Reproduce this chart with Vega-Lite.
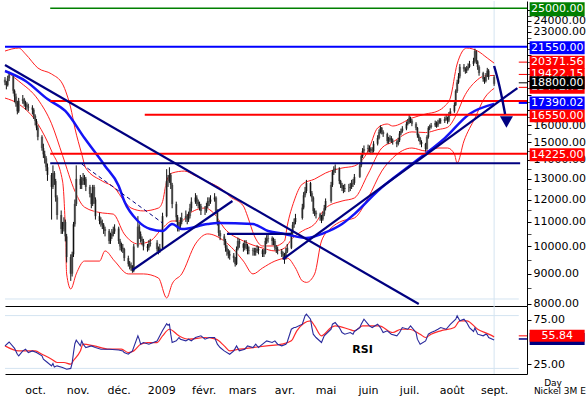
{
"$schema":"https://vega.github.io/schema/vega-lite/v6.json",
"background":"white",
"padding":0,
"spacing":0,
"bounds":"flush",
"config":{"view":{"stroke":null},"font":"DejaVu Sans","axis":{"labelFont":"DejaVu Sans","labelFontSize":11,"labelColor":"#000","domainColor":"#000","tickColor":"#000","grid":false}},
"datasets":{
"bars":[
{"d":"2008-09-09","o":19100,"h":19300,"l":18700,"c":18900},
{"d":"2008-09-10","o":18900,"h":19000,"l":18400,"c":18700},
{"d":"2008-09-11","o":18700,"h":19400,"l":18600,"c":19200},
{"d":"2008-09-12","o":19200,"h":19700,"l":19000,"c":19500},
{"d":"2008-09-15","o":19400,"h":19500,"l":18100,"c":18300},
{"d":"2008-09-16","o":18300,"h":18400,"l":17500,"c":17900},
{"d":"2008-09-17","o":17900,"h":18100,"l":17200,"c":17400},
{"d":"2008-09-18","o":17400,"h":17600,"l":16700,"c":16900},
{"d":"2008-09-19","o":16900,"h":17800,"l":16800,"c":17600},
{"d":"2008-09-22","o":17600,"h":18000,"l":17400,"c":17700},
{"d":"2008-09-23","o":17700,"h":17800,"l":17200,"c":17400},
{"d":"2008-09-24","o":17400,"h":17600,"l":17000,"c":17300},
{"d":"2008-09-25","o":17300,"h":17500,"l":17000,"c":17200},
{"d":"2008-09-26","o":17200,"h":17400,"l":16900,"c":17150},
{"d":"2008-09-29","o":17150,"h":17300,"l":16700,"c":17000},
{"d":"2008-09-30","o":17000,"h":17100,"l":16400,"c":16600},
{"d":"2008-10-01","o":16600,"h":16700,"l":16000,"c":16270},
{"d":"2008-10-02","o":16270,"h":16400,"l":15700,"c":15860},
{"d":"2008-10-03","o":15860,"h":16000,"l":15100,"c":15300},
{"d":"2008-10-06","o":15300,"h":15400,"l":14500,"c":14650},
{"d":"2008-10-07","o":14650,"h":14900,"l":14100,"c":14300},
{"d":"2008-10-08","o":14300,"h":14500,"l":13800,"c":14080},
{"d":"2008-10-09","o":14080,"h":14200,"l":13400,"c":13600},
{"d":"2008-10-10","o":13600,"h":13800,"l":12900,"c":13200},
{"d":"2008-10-13","o":13200,"h":13300,"l":11100,"c":12600},
{"d":"2008-10-14","o":12600,"h":13700,"l":12500,"c":13300},
{"d":"2008-10-15","o":13300,"h":13400,"l":12700,"c":12890},
{"d":"2008-10-16","o":12890,"h":13000,"l":11900,"c":12100},
{"d":"2008-10-17","o":12100,"h":12200,"l":11100,"c":11300},
{"d":"2008-10-20","o":11300,"h":11500,"l":10500,"c":10700},
{"d":"2008-10-21","o":10700,"h":11000,"l":10500,"c":10800},
{"d":"2008-10-22","o":10800,"h":11200,"l":10600,"c":11000},
{"d":"2008-10-23","o":11000,"h":11100,"l":10200,"c":10400},
{"d":"2008-10-24","o":10400,"h":10500,"l":9400,"c":9600},
{"d":"2008-10-27","o":9600,"h":9700,"l":8750,"c":9000},
{"d":"2008-10-28","o":9000,"h":9800,"l":8900,"c":9700},
{"d":"2008-10-29","o":9700,"h":11000,"l":9600,"c":10900},
{"d":"2008-10-30","o":10900,"h":12000,"l":10800,"c":11800},
{"d":"2008-10-31","o":11800,"h":13700,"l":11700,"c":13000},
{"d":"2008-11-03","o":13000,"h":13200,"l":12500,"c":12700},
{"d":"2008-11-04","o":12700,"h":13100,"l":12500,"c":12900},
{"d":"2008-11-05","o":12900,"h":13300,"l":12700,"c":13050},
{"d":"2008-11-06","o":13050,"h":13200,"l":12700,"c":13000},
{"d":"2008-11-07","o":13000,"h":13100,"l":12400,"c":12600},
{"d":"2008-11-10","o":12600,"h":12700,"l":12100,"c":12260},
{"d":"2008-11-11","o":12260,"h":12300,"l":11600,"c":11790},
{"d":"2008-11-12","o":11790,"h":12700,"l":11700,"c":12600},
{"d":"2008-11-13","o":12600,"h":12700,"l":11800,"c":12000},
{"d":"2008-11-14","o":12000,"h":12100,"l":11100,"c":11250},
{"d":"2008-11-17","o":11250,"h":11400,"l":10900,"c":11040},
{"d":"2008-11-18","o":11040,"h":11200,"l":10800,"c":10950},
{"d":"2008-11-19","o":10950,"h":11100,"l":10700,"c":10880},
{"d":"2008-11-20","o":10880,"h":10950,"l":10500,"c":10700},
{"d":"2008-11-21","o":10700,"h":10800,"l":10400,"c":10620},
{"d":"2008-11-24","o":10620,"h":10700,"l":10100,"c":10215},
{"d":"2008-11-25","o":10215,"h":10550,"l":10100,"c":10400},
{"d":"2008-11-26","o":10400,"h":10700,"l":10300,"c":10500},
{"d":"2008-11-27","o":10500,"h":10800,"l":10400,"c":10600},
{"d":"2008-11-28","o":10600,"h":10900,"l":10500,"c":10720},
{"d":"2008-12-01","o":10720,"h":10800,"l":10100,"c":10215},
{"d":"2008-12-02","o":10215,"h":10300,"l":9850,"c":10000},
{"d":"2008-12-03","o":10000,"h":10150,"l":9800,"c":9950},
{"d":"2008-12-04","o":9950,"h":10100,"l":9750,"c":9900},
{"d":"2008-12-05","o":9900,"h":9950,"l":9450,"c":9560},
{"d":"2008-12-08","o":9560,"h":9650,"l":9250,"c":9340},
{"d":"2008-12-09","o":9340,"h":9450,"l":9150,"c":9300},
{"d":"2008-12-10","o":9300,"h":9400,"l":9100,"c":9200},
{"d":"2008-12-11","o":9200,"h":9300,"l":9030,"c":9100},
{"d":"2008-12-12","o":9100,"h":10100,"l":9050,"c":10000},
{"d":"2008-12-15","o":10000,"h":11250,"l":9950,"c":10800},
{"d":"2008-12-16","o":10800,"h":10900,"l":10300,"c":10500},
{"d":"2008-12-17","o":10500,"h":10600,"l":10150,"c":10300},
{"d":"2008-12-18","o":10300,"h":10400,"l":10050,"c":10215},
{"d":"2008-12-19","o":10215,"h":10300,"l":9850,"c":10000},
{"d":"2008-12-22","o":10000,"h":10100,"l":9800,"c":9950},
{"d":"2008-12-23","o":9950,"h":10250,"l":9850,"c":10100},
{"d":"2008-12-24","o":10100,"h":10300,"l":10000,"c":10150},
{"d":"2008-12-29","o":10150,"h":10250,"l":9800,"c":9900},
{"d":"2008-12-30","o":9900,"h":10000,"l":9700,"c":9826},
{"d":"2008-12-31","o":9826,"h":10100,"l":9750,"c":9950},
{"d":"2009-01-02","o":9950,"h":11400,"l":9900,"c":11250},
{"d":"2009-01-05","o":11250,"h":13500,"l":11200,"c":12900},
{"d":"2009-01-06","o":12900,"h":13200,"l":12600,"c":12890},
{"d":"2009-01-07","o":12890,"h":13600,"l":12800,"c":13200},
{"d":"2009-01-08","o":13200,"h":13300,"l":12500,"c":12700},
{"d":"2009-01-09","o":12700,"h":12800,"l":11600,"c":11790},
{"d":"2009-01-12","o":11790,"h":11900,"l":11000,"c":11200},
{"d":"2009-01-13","o":11200,"h":11300,"l":10600,"c":10720},
{"d":"2009-01-14","o":10720,"h":11000,"l":10600,"c":10830},
{"d":"2009-01-15","o":10830,"h":11200,"l":10700,"c":11000},
{"d":"2009-01-16","o":11000,"h":11400,"l":10900,"c":11170},
{"d":"2009-01-19","o":11170,"h":11500,"l":11000,"c":11250},
{"d":"2009-01-20","o":11250,"h":11350,"l":10900,"c":11100},
{"d":"2009-01-21","o":11100,"h":11450,"l":11000,"c":11250},
{"d":"2009-01-22","o":11250,"h":11800,"l":11150,"c":11600},
{"d":"2009-01-23","o":11600,"h":12100,"l":11450,"c":11900},
{"d":"2009-01-26","o":11900,"h":12300,"l":11800,"c":12090},
{"d":"2009-01-27","o":12090,"h":12200,"l":11700,"c":11900},
{"d":"2009-01-28","o":11900,"h":12000,"l":11600,"c":11790},
{"d":"2009-01-29","o":11790,"h":11900,"l":11500,"c":11700},
{"d":"2009-01-30","o":11700,"h":11800,"l":11300,"c":11480},
{"d":"2009-02-02","o":11480,"h":11700,"l":11300,"c":11480},
{"d":"2009-02-03","o":11480,"h":11850,"l":11400,"c":11700},
{"d":"2009-02-04","o":11700,"h":12100,"l":11600,"c":11930},
{"d":"2009-02-05","o":11930,"h":12100,"l":11700,"c":11900},
{"d":"2009-02-06","o":11900,"h":12200,"l":11800,"c":12000},
{"d":"2009-02-09","o":12000,"h":12300,"l":11900,"c":12090},
{"d":"2009-02-10","o":12090,"h":12150,"l":11350,"c":11480},
{"d":"2009-02-11","o":11480,"h":11550,"l":10850,"c":11000},
{"d":"2009-02-12","o":11000,"h":11050,"l":10400,"c":10540},
{"d":"2009-02-13","o":10540,"h":10650,"l":10250,"c":10400},
{"d":"2009-02-16","o":10400,"h":10500,"l":10050,"c":10215},
{"d":"2009-02-17","o":10215,"h":10300,"l":9800,"c":9950},
{"d":"2009-02-18","o":9950,"h":10050,"l":9650,"c":9800},
{"d":"2009-02-19","o":9800,"h":9900,"l":9550,"c":9710},
{"d":"2009-02-20","o":9710,"h":9850,"l":9500,"c":9650},
{"d":"2009-02-23","o":9650,"h":9750,"l":9400,"c":9560},
{"d":"2009-02-24","o":9560,"h":9600,"l":9250,"c":9340},
{"d":"2009-02-25","o":9340,"h":10000,"l":9300,"c":9900},
{"d":"2009-02-26","o":9900,"h":10350,"l":9850,"c":10215},
{"d":"2009-02-27","o":10215,"h":10300,"l":9950,"c":10100},
{"d":"2009-03-02","o":10100,"h":10150,"l":9800,"c":9950},
{"d":"2009-03-03","o":9950,"h":10250,"l":9850,"c":10100},
{"d":"2009-03-04","o":10100,"h":10250,"l":9900,"c":10050},
{"d":"2009-03-05","o":10050,"h":10100,"l":9700,"c":9826},
{"d":"2009-03-06","o":9826,"h":10000,"l":9700,"c":9850},
{"d":"2009-03-09","o":9850,"h":9950,"l":9650,"c":9826},
{"d":"2009-03-10","o":9826,"h":9950,"l":9650,"c":9800},
{"d":"2009-03-11","o":9800,"h":9950,"l":9650,"c":9826},
{"d":"2009-03-12","o":9826,"h":10050,"l":9750,"c":9900},
{"d":"2009-03-13","o":9900,"h":10000,"l":9700,"c":9850},
{"d":"2009-03-16","o":9850,"h":9900,"l":9600,"c":9710},
{"d":"2009-03-17","o":9710,"h":9900,"l":9600,"c":9750},
{"d":"2009-03-18","o":9750,"h":10350,"l":9700,"c":10215},
{"d":"2009-03-19","o":10215,"h":10450,"l":10100,"c":10300},
{"d":"2009-03-20","o":10300,"h":10500,"l":10150,"c":10330},
{"d":"2009-03-23","o":10330,"h":10400,"l":10050,"c":10215},
{"d":"2009-03-24","o":10215,"h":10350,"l":10050,"c":10215},
{"d":"2009-03-25","o":10215,"h":10300,"l":9850,"c":9950},
{"d":"2009-03-26","o":9950,"h":10050,"l":9750,"c":9900},
{"d":"2009-03-27","o":9900,"h":10000,"l":9700,"c":9826},
{"d":"2009-03-30","o":9826,"h":9900,"l":9600,"c":9710},
{"d":"2009-03-31","o":9710,"h":9800,"l":9500,"c":9650},
{"d":"2009-04-01","o":9650,"h":9750,"l":9350,"c":9560},
{"d":"2009-04-02","o":9560,"h":9950,"l":9500,"c":9800},
{"d":"2009-04-03","o":9800,"h":10100,"l":9750,"c":9950},
{"d":"2009-04-06","o":9950,"h":10650,"l":9900,"c":10540},
{"d":"2009-04-07","o":10540,"h":11000,"l":10450,"c":10880},
{"d":"2009-04-08","o":10880,"h":11150,"l":10750,"c":11000},
{"d":"2009-04-09","o":11000,"h":11350,"l":10900,"c":11170},
{"d":"2009-04-14","o":11170,"h":11800,"l":11100,"c":11630},
{"d":"2009-04-15","o":11630,"h":12350,"l":11550,"c":12200},
{"d":"2009-04-16","o":12200,"h":12600,"l":12100,"c":12400},
{"d":"2009-04-17","o":12400,"h":12950,"l":12300,"c":12790},
{"d":"2009-04-20","o":12790,"h":12850,"l":12150,"c":12300},
{"d":"2009-04-21","o":12300,"h":12400,"l":11900,"c":12090},
{"d":"2009-04-22","o":12090,"h":12150,"l":11350,"c":11480},
{"d":"2009-04-23","o":11480,"h":11600,"l":11250,"c":11400},
{"d":"2009-04-24","o":11400,"h":11500,"l":11150,"c":11330},
{"d":"2009-04-27","o":11330,"h":11400,"l":11050,"c":11200},
{"d":"2009-04-28","o":11200,"h":11300,"l":10950,"c":11110},
{"d":"2009-04-29","o":11110,"h":11450,"l":11050,"c":11330},
{"d":"2009-04-30","o":11330,"h":11750,"l":11250,"c":11600},
{"d":"2009-05-01","o":11600,"h":12050,"l":11500,"c":11930},
{"d":"2009-05-05","o":11930,"h":12850,"l":11850,"c":12700},
{"d":"2009-05-06","o":12700,"h":13450,"l":12600,"c":13340},
{"d":"2009-05-07","o":13340,"h":13650,"l":13200,"c":13500},
{"d":"2009-05-08","o":13500,"h":13750,"l":13300,"c":13540},
{"d":"2009-05-11","o":13540,"h":13600,"l":12750,"c":12890},
{"d":"2009-05-12","o":12890,"h":12950,"l":12550,"c":12700},
{"d":"2009-05-13","o":12700,"h":12800,"l":12400,"c":12550},
{"d":"2009-05-14","o":12550,"h":12700,"l":12300,"c":12500},
{"d":"2009-05-15","o":12500,"h":12750,"l":12350,"c":12550},
{"d":"2009-05-18","o":12550,"h":12750,"l":12350,"c":12550},
{"d":"2009-05-19","o":12550,"h":12800,"l":12400,"c":12600},
{"d":"2009-05-20","o":12600,"h":12950,"l":12500,"c":12750},
{"d":"2009-05-21","o":12750,"h":13000,"l":12600,"c":12800},
{"d":"2009-05-22","o":12800,"h":13250,"l":12700,"c":13100},
{"d":"2009-05-26","o":13100,"h":13850,"l":13050,"c":13700},
{"d":"2009-05-27","o":13700,"h":14350,"l":13600,"c":14200},
{"d":"2009-05-28","o":14200,"h":14650,"l":14100,"c":14490},
{"d":"2009-05-29","o":14490,"h":14800,"l":14350,"c":14600},
{"d":"2009-06-01","o":14600,"h":14850,"l":14400,"c":14660},
{"d":"2009-06-02","o":14660,"h":14800,"l":14400,"c":14600},
{"d":"2009-06-03","o":14600,"h":14700,"l":14300,"c":14500},
{"d":"2009-06-04","o":14500,"h":14700,"l":14300,"c":14490},
{"d":"2009-06-05","o":14490,"h":15050,"l":14400,"c":14900},
{"d":"2009-06-08","o":14900,"h":15400,"l":14800,"c":15230},
{"d":"2009-06-09","o":15230,"h":15750,"l":15150,"c":15600},
{"d":"2009-06-10","o":15600,"h":16000,"l":15500,"c":15850},
{"d":"2009-06-11","o":15850,"h":15900,"l":15450,"c":15600},
{"d":"2009-06-12","o":15600,"h":15700,"l":15300,"c":15470},
{"d":"2009-06-15","o":15470,"h":15550,"l":14900,"c":15060},
{"d":"2009-06-16","o":15060,"h":15300,"l":14900,"c":15100},
{"d":"2009-06-17","o":15100,"h":15400,"l":15000,"c":15230},
{"d":"2009-06-18","o":15230,"h":15350,"l":14950,"c":15100},
{"d":"2009-06-19","o":15100,"h":15200,"l":14850,"c":15000},
{"d":"2009-06-22","o":15000,"h":15100,"l":14700,"c":14890},
{"d":"2009-06-23","o":14890,"h":15250,"l":14800,"c":15100},
{"d":"2009-06-24","o":15100,"h":15650,"l":15000,"c":15500},
{"d":"2009-06-25","o":15500,"h":15800,"l":15400,"c":15650},
{"d":"2009-06-26","o":15650,"h":15950,"l":15550,"c":15800},
{"d":"2009-06-29","o":15800,"h":16250,"l":15700,"c":16090},
{"d":"2009-06-30","o":16090,"h":16400,"l":16000,"c":16200},
{"d":"2009-07-01","o":16200,"h":16700,"l":16100,"c":16480},
{"d":"2009-07-02","o":16480,"h":16550,"l":16150,"c":16300},
{"d":"2009-07-03","o":16300,"h":16400,"l":15950,"c":16100},
{"d":"2009-07-06","o":16100,"h":16200,"l":15700,"c":15850},
{"d":"2009-07-07","o":15850,"h":15900,"l":15250,"c":15400},
{"d":"2009-07-08","o":15400,"h":15500,"l":15050,"c":15230},
{"d":"2009-07-09","o":15230,"h":15300,"l":14850,"c":15000},
{"d":"2009-07-10","o":15000,"h":15100,"l":14700,"c":14890},
{"d":"2009-07-13","o":14890,"h":14950,"l":14450,"c":14600},
{"d":"2009-07-14","o":14600,"h":15400,"l":14550,"c":15300},
{"d":"2009-07-15","o":15300,"h":15950,"l":15200,"c":15850},
{"d":"2009-07-16","o":15850,"h":16050,"l":15700,"c":15900},
{"d":"2009-07-17","o":15900,"h":16150,"l":15800,"c":16000},
{"d":"2009-07-20","o":16000,"h":16300,"l":15900,"c":16150},
{"d":"2009-07-21","o":16150,"h":16250,"l":15850,"c":16000},
{"d":"2009-07-22","o":16000,"h":16350,"l":15900,"c":16200},
{"d":"2009-07-23","o":16200,"h":16450,"l":16100,"c":16300},
{"d":"2009-07-24","o":16300,"h":16450,"l":16100,"c":16270},
{"d":"2009-07-27","o":16270,"h":16550,"l":16150,"c":16400},
{"d":"2009-07-28","o":16400,"h":16650,"l":16300,"c":16480},
{"d":"2009-07-29","o":16480,"h":16550,"l":16100,"c":16300},
{"d":"2009-07-30","o":16300,"h":16850,"l":16200,"c":16700},
{"d":"2009-07-31","o":16700,"h":17100,"l":16600,"c":16900},
{"d":"2009-08-03","o":16900,"h":17500,"l":16800,"c":17320},
{"d":"2009-08-04","o":17320,"h":18400,"l":17250,"c":18280},
{"d":"2009-08-05","o":18280,"h":19100,"l":18150,"c":18900},
{"d":"2009-08-06","o":18900,"h":19600,"l":18800,"c":19350},
{"d":"2009-08-07","o":19350,"h":20300,"l":19200,"c":20080},
{"d":"2009-08-10","o":20080,"h":20300,"l":19700,"c":19900},
{"d":"2009-08-11","o":19900,"h":20050,"l":19550,"c":19780},
{"d":"2009-08-12","o":19780,"h":20150,"l":19600,"c":19900},
{"d":"2009-08-13","o":19900,"h":20350,"l":19800,"c":20080},
{"d":"2009-08-14","o":20080,"h":20550,"l":20000,"c":20300},
{"d":"2009-08-17","o":20300,"h":20800,"l":20150,"c":20540},
{"d":"2009-08-18","o":20540,"h":21550,"l":20400,"c":21350},
{"d":"2009-08-19","o":21350,"h":21400,"l":20300,"c":20500},
{"d":"2009-08-20","o":20500,"h":20600,"l":19850,"c":20080},
{"d":"2009-08-21","o":20080,"h":20200,"l":19400,"c":19600},
{"d":"2009-08-24","o":19600,"h":19700,"l":18950,"c":19150},
{"d":"2009-08-25","o":19150,"h":19300,"l":18800,"c":19000},
{"d":"2009-08-26","o":19000,"h":19600,"l":18900,"c":19400},
{"d":"2009-08-27","o":19400,"h":20000,"l":19300,"c":19780},
{"d":"2009-08-28","o":19780,"h":19900,"l":19100,"c":19300},
{"d":"2009-09-01","o":19300,"h":19450,"l":18650,"c":18800}
],
"bands":[
{"s":"upper","d":"2008-09-09","v":21350},{"s":"upper","d":"2008-09-19","v":21600},{"s":"upper","d":"2008-09-24","v":21100},{"s":"upper","d":"2008-10-03","v":19990},{"s":"upper","d":"2008-10-13","v":19530},{"s":"upper","d":"2008-10-21","v":18790},{"s":"upper","d":"2008-10-24","v":18070},{"s":"upper","d":"2008-10-27","v":17115},{"s":"upper","d":"2008-10-30","v":15840},{"s":"upper","d":"2008-11-04","v":14320},{"s":"upper","d":"2008-11-07","v":13560},{"s":"upper","d":"2008-11-19","v":12890},{"s":"upper","d":"2008-11-28","v":12550},{"s":"upper","d":"2008-12-05","v":11930},{"s":"upper","d":"2008-12-10","v":11610},{"s":"upper","d":"2008-12-19","v":11480},{"s":"upper","d":"2008-12-30","v":11610},{"s":"upper","d":"2009-01-02","v":11900},{"s":"upper","d":"2009-01-05","v":12890},{"s":"upper","d":"2009-01-09","v":13300},{"s":"upper","d":"2009-01-18","v":13400},{"s":"upper","d":"2009-01-26","v":13150},{"s":"upper","d":"2009-02-03","v":12890},{"s":"upper","d":"2009-02-16","v":12400},{"s":"upper","d":"2009-02-20","v":12150},{"s":"upper","d":"2009-03-02","v":11700},{"s":"upper","d":"2009-03-05","v":11250},{"s":"upper","d":"2009-03-10","v":10420},{"s":"upper","d":"2009-03-16","v":10020},{"s":"upper","d":"2009-03-25","v":10020},{"s":"upper","d":"2009-04-01","v":10215},{"s":"upper","d":"2009-04-03","v":10830},{"s":"upper","d":"2009-04-08","v":11930},{"s":"upper","d":"2009-04-14","v":12740},{"s":"upper","d":"2009-04-23","v":12990},{"s":"upper","d":"2009-05-01","v":13300},{"s":"upper","d":"2009-05-13","v":13560},{"s":"upper","d":"2009-05-22","v":13670},{"s":"upper","d":"2009-06-01","v":14485},{"s":"upper","d":"2009-06-08","v":15840},{"s":"upper","d":"2009-06-15","v":16085},{"s":"upper","d":"2009-06-19","v":15960},{"s":"upper","d":"2009-07-03","v":16460},{"s":"upper","d":"2009-07-13","v":16720},{"s":"upper","d":"2009-07-22","v":16920},{"s":"upper","d":"2009-07-27","v":17250},{"s":"upper","d":"2009-07-31","v":17790},{"s":"upper","d":"2009-08-05","v":20300},{"s":"upper","d":"2009-08-12","v":21600},{"s":"upper","d":"2009-08-20","v":21350},{"s":"upper","d":"2009-08-27","v":20780},{"s":"upper","d":"2009-09-01","v":20371.56},
{"s":"middle","d":"2008-09-09","v":19800},{"s":"middle","d":"2008-09-19","v":19000},{"s":"middle","d":"2008-10-03","v":17700},{"s":"middle","d":"2008-10-13","v":16100},{"s":"middle","d":"2008-10-21","v":14240},{"s":"middle","d":"2008-10-30","v":12400},{"s":"middle","d":"2008-11-06","v":11650},{"s":"middle","d":"2008-11-19","v":11390},{"s":"middle","d":"2008-11-27","v":11340},{"s":"middle","d":"2008-12-05","v":10500},{"s":"middle","d":"2008-12-15","v":10100},{"s":"middle","d":"2008-12-24","v":10215},{"s":"middle","d":"2009-01-02","v":10740},{"s":"middle","d":"2009-01-09","v":11040},{"s":"middle","d":"2009-01-16","v":11040},{"s":"middle","d":"2009-01-21","v":11340},{"s":"middle","d":"2009-02-02","v":11610},{"s":"middle","d":"2009-02-09","v":11340},{"s":"middle","d":"2009-02-16","v":10740},{"s":"middle","d":"2009-03-02","v":10215},{"s":"middle","d":"2009-03-16","v":9940},{"s":"middle","d":"2009-03-25","v":9830},{"s":"middle","d":"2009-04-01","v":9940},{"s":"middle","d":"2009-04-07","v":10335},{"s":"middle","d":"2009-04-14","v":10620},{"s":"middle","d":"2009-04-23","v":10910},{"s":"middle","d":"2009-05-01","v":11610},{"s":"middle","d":"2009-05-13","v":11930},{"s":"middle","d":"2009-05-22","v":12070},{"s":"middle","d":"2009-06-01","v":13250},{"s":"middle","d":"2009-06-11","v":14655},{"s":"middle","d":"2009-06-19","v":15000},{"s":"middle","d":"2009-07-03","v":15600},{"s":"middle","d":"2009-07-13","v":15560},{"s":"middle","d":"2009-07-22","v":15740},{"s":"middle","d":"2009-07-29","v":15880},{"s":"middle","d":"2009-08-05","v":16790},{"s":"middle","d":"2009-08-10","v":17860},{"s":"middle","d":"2009-08-18","v":18930},{"s":"middle","d":"2009-08-25","v":19380},{"s":"middle","d":"2009-09-01","v":19422.15},
{"s":"lower","d":"2008-09-09","v":17790},{"s":"lower","d":"2008-09-19","v":17380},{"s":"lower","d":"2008-10-03","v":16085},{"s":"lower","d":"2008-10-13","v":14485},{"s":"lower","d":"2008-10-21","v":12890},{"s":"lower","d":"2008-10-23","v":10740},{"s":"lower","d":"2008-10-24","v":8990},{"s":"lower","d":"2008-10-27","v":8480},{"s":"lower","d":"2008-10-31","v":8990},{"s":"lower","d":"2008-11-06","v":9450},{"s":"lower","d":"2008-11-17","v":9450},{"s":"lower","d":"2008-11-21","v":9830},{"s":"lower","d":"2008-11-28","v":9450},{"s":"lower","d":"2008-12-08","v":8990},{"s":"lower","d":"2008-12-19","v":8990},{"s":"lower","d":"2008-12-30","v":8850},{"s":"lower","d":"2009-01-05","v":8190},{"s":"lower","d":"2009-01-09","v":8650},{"s":"lower","d":"2009-01-16","v":8990},{"s":"lower","d":"2009-01-26","v":10100},{"s":"lower","d":"2009-02-04","v":10500},{"s":"lower","d":"2009-02-16","v":10215},{"s":"lower","d":"2009-03-02","v":9450},{"s":"lower","d":"2009-03-09","v":8990},{"s":"lower","d":"2009-03-16","v":9200},{"s":"lower","d":"2009-03-25","v":9450},{"s":"lower","d":"2009-04-03","v":9560},{"s":"lower","d":"2009-04-09","v":9200},{"s":"lower","d":"2009-04-14","v":8750},{"s":"lower","d":"2009-04-17","v":8700},{"s":"lower","d":"2009-04-23","v":8990},{"s":"lower","d":"2009-04-28","v":10215},{"s":"lower","d":"2009-05-05","v":10740},{"s":"lower","d":"2009-05-13","v":11040},{"s":"lower","d":"2009-05-22","v":11170},{"s":"lower","d":"2009-06-01","v":12070},{"s":"lower","d":"2009-06-11","v":13400},{"s":"lower","d":"2009-06-19","v":14100},{"s":"lower","d":"2009-07-03","v":14655},{"s":"lower","d":"2009-07-13","v":14485},{"s":"lower","d":"2009-07-22","v":14655},{"s":"lower","d":"2009-07-29","v":14655},{"s":"lower","d":"2009-08-03","v":14320},{"s":"lower","d":"2009-08-05","v":13830},{"s":"lower","d":"2009-08-10","v":15060},{"s":"lower","d":"2009-08-18","v":16460},{"s":"lower","d":"2009-08-25","v":17790},{"s":"lower","d":"2009-09-01","v":18472.71}
],
"ma":[
{"d":"2008-09-09","v":19760},{"d":"2008-09-24","v":19010},{"d":"2008-10-10","v":17720},{"d":"2008-10-23","v":16920},{"d":"2008-11-06","v":15230},{"d":"2008-11-21","v":13670},{"d":"2008-12-01","v":12650},{"d":"2008-12-05","v":11930},{"d":"2008-12-15","v":11040},{"d":"2008-12-24","v":10700},{"d":"2009-01-02","v":10620},{"d":"2009-01-09","v":10910},{"d":"2009-01-16","v":10700},{"d":"2009-02-04","v":10910},{"d":"2009-02-11","v":10950},{"d":"2009-03-09","v":10910},{"d":"2009-03-20","v":10620},{"d":"2009-04-01","v":10500},{"d":"2009-04-17","v":10335},{"d":"2009-04-30","v":10540},{"d":"2009-05-13","v":10910},{"d":"2009-05-22","v":11340},{"d":"2009-06-08","v":12400},{"d":"2009-07-03","v":13770},{"d":"2009-07-27","v":15230},{"d":"2009-08-14","v":16720},{"d":"2009-09-01","v":17390.02}
],
"levels":[
{"k":"target","p":25000,"d":"2008-10-12","d2":"2009-09-25"},
{"k":"high","p":21550,"d":"2008-09-09","d2":"2009-09-25"},
{"k":"res","p":17450,"d":"2008-10-12","d2":"2009-09-25"},
{"k":"res","p":16550,"d":"2008-12-20","d2":"2009-09-25"},
{"k":"sup","p":14225,"d":"2008-10-12","d2":"2009-09-25"},
{"k":"base","p":13700,"d":"2008-10-12","d2":"2009-09-20"}
],
"trend":[
{"g":"A","d":"2008-09-09","p":20223},{"g":"A","d":"2009-07-08","p":8000},
{"g":"C","d":"2009-03-31","p":9526},{"g":"C","d":"2009-09-18","p":18496},
{"g":"D","d":"2008-12-11","p":9129},{"g":"D","d":"2009-02-22","p":11931},
{"g":"E","d":"2009-02-18","p":10500},{"g":"E","d":"2009-04-06","p":10500}
],
"dash":[{"d":"2008-11-04","p":13773},{"d":"2009-01-02","p":10954}],
"arrow":[{"d":"2009-09-01","p":20145},{"d":"2009-09-04","p":19006},{"d":"2009-09-06","p":18141},{"d":"2009-09-09","p":16722}],
"head":[{"d":"2009-09-10","p":16211}],
"tags":[
{"k":"mid","p":19422.15,"t":"19422.15"},
{"k":"low","p":18472.71,"t":"18472.71"},
{"k":"up","p":20371.56,"t":"20371.56"},
{"k":"res","p":16550,"t":"16550.00"},
{"k":"sup","p":14225,"t":"14225.00"},
{"k":"high","p":21550,"t":"21550.00"},
{"k":"ma","p":17390.02,"t":"17390.02"},
{"k":"last","p":18800,"t":"18800.00"},
{"k":"target","p":25000,"t":"25000.00"}
],
"rsi":[
{"d":"2008-09-09","v":45.6},{"d":"2008-09-12","v":50},{"d":"2008-09-16","v":42.7},{"d":"2008-09-18","v":36},{"d":"2008-09-19","v":34.2},{"d":"2008-09-22","v":39.9},{"d":"2008-09-24","v":41.8},{"d":"2008-09-26","v":38},{"d":"2008-09-29","v":39.9},{"d":"2008-10-02","v":38},{"d":"2008-10-06","v":34.2},{"d":"2008-10-07","v":30.5},{"d":"2008-10-10","v":26.7},{"d":"2008-10-13","v":22.9},{"d":"2008-10-14","v":25.5},{"d":"2008-10-15","v":21.5},{"d":"2008-10-17","v":22.9},{"d":"2008-10-21","v":21},{"d":"2008-10-24","v":19.1},{"d":"2008-10-27","v":20},{"d":"2008-10-28","v":26},{"d":"2008-10-29","v":38},{"d":"2008-10-30","v":48},{"d":"2008-10-31","v":52},{"d":"2008-11-03","v":45.6},{"d":"2008-11-04","v":51.3},{"d":"2008-11-05","v":47.5},{"d":"2008-11-07","v":43.7},{"d":"2008-11-11","v":45.6},{"d":"2008-11-14","v":43.7},{"d":"2008-11-18","v":41.8},{"d":"2008-11-21","v":41.8},{"d":"2008-11-24","v":41.8},{"d":"2008-12-01","v":40.9},{"d":"2008-12-04","v":39.9},{"d":"2008-12-05","v":38},{"d":"2008-12-08","v":36.1},{"d":"2008-12-11","v":39.9},{"d":"2008-12-15","v":57},{"d":"2008-12-16","v":53},{"d":"2008-12-17","v":47.5},{"d":"2008-12-19","v":49.4},{"d":"2008-12-23","v":47.5},{"d":"2008-12-29","v":51},{"d":"2008-12-31","v":57},{"d":"2009-01-02","v":63},{"d":"2009-01-05","v":70.9},{"d":"2009-01-06","v":69},{"d":"2009-01-07","v":70.2},{"d":"2009-01-08","v":58.9},{"d":"2009-01-09","v":49.4},{"d":"2009-01-12","v":51.3},{"d":"2009-01-14","v":55.1},{"d":"2009-01-15","v":53.2},{"d":"2009-01-19","v":51.3},{"d":"2009-01-21","v":53.2},{"d":"2009-01-23","v":51.3},{"d":"2009-01-26","v":55.1},{"d":"2009-01-30","v":57},{"d":"2009-02-02","v":53.2},{"d":"2009-02-05","v":55.1},{"d":"2009-02-09","v":55.1},{"d":"2009-02-11","v":47.5},{"d":"2009-02-13","v":43.7},{"d":"2009-02-16","v":39.9},{"d":"2009-02-20","v":36.1},{"d":"2009-02-23","v":39.9},{"d":"2009-02-25","v":45.6},{"d":"2009-02-27","v":39.9},{"d":"2009-03-03","v":41.8},{"d":"2009-03-05","v":45.6},{"d":"2009-03-09","v":43.7},{"d":"2009-03-11","v":47.5},{"d":"2009-03-13","v":43.7},{"d":"2009-03-16","v":47.5},{"d":"2009-03-19","v":51.3},{"d":"2009-03-23","v":49.4},{"d":"2009-03-25","v":51.3},{"d":"2009-03-27","v":47.5},{"d":"2009-03-30","v":45.6},{"d":"2009-04-02","v":47.5},{"d":"2009-04-03","v":50},{"d":"2009-04-06","v":64.5},{"d":"2009-04-08","v":66.4},{"d":"2009-04-09","v":66.4},{"d":"2009-04-14","v":70.2},{"d":"2009-04-15","v":75},{"d":"2009-04-16","v":79.7},{"d":"2009-04-17","v":81.6},{"d":"2009-04-20","v":75.9},{"d":"2009-04-21","v":66.4},{"d":"2009-04-22","v":58.9},{"d":"2009-04-24","v":55.1},{"d":"2009-04-28","v":49.4},{"d":"2009-04-30","v":57},{"d":"2009-05-05","v":64.5},{"d":"2009-05-06","v":70.2},{"d":"2009-05-08","v":72.1},{"d":"2009-05-11","v":66.4},{"d":"2009-05-13","v":60.8},{"d":"2009-05-15","v":58.9},{"d":"2009-05-19","v":60.8},{"d":"2009-05-21","v":58.9},{"d":"2009-05-22","v":62},{"d":"2009-05-26","v":66.4},{"d":"2009-05-27","v":70.2},{"d":"2009-05-29","v":75.9},{"d":"2009-06-02","v":68.3},{"d":"2009-06-04","v":66.4},{"d":"2009-06-08","v":70.2},{"d":"2009-06-10","v":66.4},{"d":"2009-06-12","v":60.8},{"d":"2009-06-15","v":62.7},{"d":"2009-06-18","v":58.9},{"d":"2009-06-22","v":57},{"d":"2009-06-24","v":60.8},{"d":"2009-06-26","v":66.4},{"d":"2009-06-30","v":64.5},{"d":"2009-07-02","v":68.3},{"d":"2009-07-06","v":60.8},{"d":"2009-07-07","v":53.2},{"d":"2009-07-09","v":47.5},{"d":"2009-07-13","v":51.3},{"d":"2009-07-15","v":58.9},{"d":"2009-07-17","v":60.8},{"d":"2009-07-20","v":62.7},{"d":"2009-07-22","v":64.5},{"d":"2009-07-24","v":66.4},{"d":"2009-07-28","v":64.5},{"d":"2009-07-31","v":70},{"d":"2009-08-04","v":76},{"d":"2009-08-05","v":79.7},{"d":"2009-08-07","v":74},{"d":"2009-08-10","v":75.9},{"d":"2009-08-12","v":72.1},{"d":"2009-08-14","v":66.4},{"d":"2009-08-17","v":62},{"d":"2009-08-18","v":66},{"d":"2009-08-20","v":58.9},{"d":"2009-08-24","v":57},{"d":"2009-08-26","v":58.9},{"d":"2009-08-27","v":58},{"d":"2009-08-28","v":55.1},{"d":"2009-09-01","v":52.3}
],
"rsima":[
{"d":"2008-09-09","v":45.6},{"d":"2008-09-19","v":39.9},{"d":"2008-10-01","v":39.9},{"d":"2008-10-06","v":36.1},{"d":"2008-10-13","v":30.5},{"d":"2008-10-17","v":26.7},{"d":"2008-10-22","v":26.7},{"d":"2008-10-27","v":24.8},{"d":"2008-10-29","v":29},{"d":"2008-11-03","v":39.9},{"d":"2008-11-05","v":47.5},{"d":"2008-11-13","v":45.6},{"d":"2008-11-24","v":41.8},{"d":"2008-12-03","v":41.8},{"d":"2008-12-08","v":38},{"d":"2008-12-12","v":39.9},{"d":"2008-12-17","v":47.5},{"d":"2008-12-22","v":49.4},{"d":"2008-12-29","v":49.4},{"d":"2009-01-02","v":57},{"d":"2009-01-07","v":64.5},{"d":"2009-01-14","v":57},{"d":"2009-01-21","v":53.2},{"d":"2009-02-02","v":55.1},{"d":"2009-02-10","v":53.2},{"d":"2009-02-16","v":45.6},{"d":"2009-02-20","v":39.9},{"d":"2009-02-27","v":41.8},{"d":"2009-03-09","v":43.7},{"d":"2009-03-19","v":45.6},{"d":"2009-03-30","v":47.5},{"d":"2009-04-06","v":51.3},{"d":"2009-04-10","v":62.7},{"d":"2009-04-20","v":74},{"d":"2009-04-23","v":68.3},{"d":"2009-04-28","v":57},{"d":"2009-04-30","v":58.9},{"d":"2009-05-05","v":66.4},{"d":"2009-05-08","v":68.3},{"d":"2009-05-18","v":64.5},{"d":"2009-05-22","v":62.7},{"d":"2009-05-28","v":68.3},{"d":"2009-06-09","v":68.3},{"d":"2009-06-19","v":60.8},{"d":"2009-06-25","v":64.5},{"d":"2009-07-01","v":64.5},{"d":"2009-07-09","v":58.9},{"d":"2009-07-13","v":55.1},{"d":"2009-07-17","v":58.9},{"d":"2009-07-24","v":62.7},{"d":"2009-08-03","v":66.4},{"d":"2009-08-07","v":74},{"d":"2009-08-12","v":74},{"d":"2009-08-20","v":64.5},{"d":"2009-08-28","v":58.9},{"d":"2009-09-01","v":55.84}
],
"rsitags":[{"k":"rsi","v":52.3,"t":"52.30"},{"k":"avg","v":55.84,"t":"55.84"}]
},
"vconcat":[
{
"width":522,"height":305,
"layer":[
{"data":{"values":[{}]},"mark":{"type":"rule","color":"#d4e4f1","strokeWidth":1},"encoding":{"x":{"datum":{"year":2008,"month":9,"date":9,"utc":true},"type":"temporal"},"x2":{"datum":{"year":2009,"month":9,"date":19,"utc":true}},"y":{"datum":8157,"type":"quantitative"}}},
{"data":{"values":[{}]},"mark":{"type":"rule","color":"#d4e4f1","strokeWidth":1},"encoding":{"x":{"datum":{"year":2009,"month":9,"date":1,"utc":true},"type":"temporal"}}},
{"data":{"name":"bands"},"mark":{"type":"line","color":"#ff2020","strokeWidth":1,"interpolate":"monotone"},
 "encoding":{
  "x":{"field":"d","type":"temporal","scale":{"domain":[{"year":2008,"month":9,"date":9,"utc":true},{"year":2009,"month":9,"date":25,"utc":true}]},"axis":{"orient":"bottom","labels":false,"ticks":false,"title":null,"grid":false,"domain":true,"domainColor":"#000"}},
  "y":{"field":"v","type":"quantitative","scale":{"type":"log","domain":[7938,25926],"nice":false,"zero":false},
   "axis":{"orient":"right","values":[8000,8500,9000,9500,10000,10500,11000,11500,12000,12500,13000,13500,14000,14500,15000,15500,16000,16500,17000,17500,18000,18500,19000,19500,20000,20500,21000,21500,22000,22500,23000,23500,24000,24500,25000],"format":".2f","labelExpr":"datum.value % 1000 == 0 && (datum.value <= 16000 || datum.value == 23000 || datum.value == 24000) ? datum.label : ''","tickSize":4,"tickWidth":{"condition":{"test":"datum.value % 1000 == 0","value":1},"value":0.7},"labelPadding":2,"title":null,"grid":false,"labelOverlap":false,"labelFlush":false}},
  "detail":{"field":"s"}}},
{"data":{"name":"bars"},"mark":{"type":"rule","color":"#9c9c9c","strokeWidth":2.4},"encoding":{"x":{"field":"d","type":"temporal"},"y":{"field":"o","type":"quantitative"},"y2":{"field":"c"}}},
{"data":{"name":"bars"},"mark":{"type":"rule","color":"#111111","strokeWidth":1},"encoding":{"x":{"field":"d","type":"temporal"},"y":{"field":"l","type":"quantitative"},"y2":{"field":"h"}}},
{"data":{"name":"ma"},"mark":{"type":"line","color":"#1414f5","strokeWidth":2.5,"interpolate":"monotone"},"encoding":{"x":{"field":"d","type":"temporal"},"y":{"field":"v","type":"quantitative"}}},
{"data":{"name":"levels"},"transform":[{"filter":{"field":"k","equal":"target"}}],"mark":{"type":"rule","color":"#008000","strokeWidth":1.5,"yOffset":-2},"encoding":{"x":{"field":"d","type":"temporal"},"x2":{"field":"d2"},"y":{"field":"p","type":"quantitative"}}},
{"data":{"name":"levels"},"transform":[{"filter":{"field":"k","equal":"high"}}],"mark":{"type":"rule","color":"#0000ff","strokeWidth":2,"yOffset":-2},"encoding":{"x":{"field":"d","type":"temporal"},"x2":{"field":"d2"},"y":{"field":"p","type":"quantitative"}}},
{"data":{"name":"levels"},"transform":[{"filter":{"field":"k","oneOf":["res","sup"]}}],"mark":{"type":"rule","color":"#ff0000","strokeWidth":2,"yOffset":-2},"encoding":{"x":{"field":"d","type":"temporal"},"x2":{"field":"d2"},"y":{"field":"p","type":"quantitative"}}},
{"data":{"name":"levels"},"transform":[{"filter":{"field":"k","equal":"base"}}],"mark":{"type":"rule","color":"#000080","strokeWidth":2,"yOffset":-2},"encoding":{"x":{"field":"d","type":"temporal"},"x2":{"field":"d2"},"y":{"field":"p","type":"quantitative"}}},
{"data":{"name":"trend"},"mark":{"type":"line","color":"#000080","strokeWidth":2.2},"encoding":{"x":{"field":"d","type":"temporal"},"y":{"field":"p","type":"quantitative"},"detail":{"field":"g"}}},
{"data":{"name":"dash"},"mark":{"type":"line","color":"#000080","strokeWidth":1,"strokeDash":[4,3]},"encoding":{"x":{"field":"d","type":"temporal"},"y":{"field":"p","type":"quantitative"}}},
{"data":{"name":"arrow"},"mark":{"type":"line","color":"#000080","strokeWidth":2.4,"interpolate":"monotone"},"encoding":{"x":{"field":"d","type":"temporal"},"y":{"field":"p","type":"quantitative"}}},
{"data":{"name":"head"},"mark":{"type":"point","shape":"triangle-down","filled":true,"color":"#000080","size":170,"opacity":1},"encoding":{"x":{"field":"d","type":"temporal"},"y":{"field":"p","type":"quantitative"}}},
{"data":{"name":"tags"},"transform":[{"filter":{"field":"k","oneOf":["up","mid","low"]}}],"mark":{"type":"rule","color":"#ff0000","strokeWidth":1,"yOffset":-1},"encoding":{"x":{"datum":{"year":2009,"month":9,"date":19,"utc":true},"type":"temporal"},"x2":{"datum":{"year":2009,"month":9,"date":25,"utc":true}},"y":{"field":"p","type":"quantitative"}}},
{"data":{"name":"tags"},"transform":[{"filter":{"field":"k","equal":"last"}}],"mark":{"type":"rule","color":"#000000","strokeWidth":1,"yOffset":-1},"encoding":{"x":{"datum":{"year":2009,"month":9,"date":19,"utc":true},"type":"temporal"},"x2":{"datum":{"year":2009,"month":9,"date":25,"utc":true}},"y":{"field":"p","type":"quantitative"}}},
{"data":{"name":"tags"},"transform":[{"filter":{"field":"k","equal":"ma"}}],"mark":{"type":"rule","color":"#0000ff","strokeWidth":2,"yOffset":-1},"encoding":{"x":{"datum":{"year":2009,"month":9,"date":19,"utc":true},"type":"temporal"},"x2":{"datum":{"year":2009,"month":9,"date":25,"utc":true}},"y":{"field":"p","type":"quantitative"}}},
{"data":{"name":"tags"},"transform":[{"filter":{"field":"k","oneOf":["mid","low"]}}],"mark":{"type":"tick","orient":"horizontal","size":55,"thickness":13,"color":"#ff0000","opacity":1,"yOffset":-1},"encoding":{"x":{"datum":{"year":2009,"month":10,"date":17,"utc":true},"type":"temporal"},"y":{"field":"p","type":"quantitative"}}},
{"data":{"name":"tags"},"transform":[{"filter":{"field":"k","oneOf":["mid","low"]}}],"mark":{"type":"text","color":"#ffffff","font":"DejaVu Sans","fontSize":11,"align":"center","baseline":"middle","yOffset":-1},"encoding":{"x":{"datum":{"year":2009,"month":10,"date":17,"utc":true},"type":"temporal"},"y":{"field":"p","type":"quantitative"},"text":{"field":"t"}}},
{"data":{"name":"tags"},"transform":[{"filter":{"field":"k","oneOf":["up","res","sup"]}}],"mark":{"type":"tick","orient":"horizontal","size":55,"thickness":13,"color":"#ff0000","opacity":1,"yOffset":-1},"encoding":{"x":{"datum":{"year":2009,"month":10,"date":17,"utc":true},"type":"temporal"},"y":{"field":"p","type":"quantitative"}}},
{"data":{"name":"tags"},"transform":[{"filter":{"field":"k","oneOf":["high","ma"]}}],"mark":{"type":"tick","orient":"horizontal","size":55,"thickness":13,"color":"#0000ff","opacity":1,"yOffset":-1},"encoding":{"x":{"datum":{"year":2009,"month":10,"date":17,"utc":true},"type":"temporal"},"y":{"field":"p","type":"quantitative"}}},
{"data":{"name":"tags"},"transform":[{"filter":{"field":"k","equal":"last"}}],"mark":{"type":"tick","orient":"horizontal","size":55,"thickness":13,"color":"#000000","opacity":1,"yOffset":-1},"encoding":{"x":{"datum":{"year":2009,"month":10,"date":17,"utc":true},"type":"temporal"},"y":{"field":"p","type":"quantitative"}}},
{"data":{"name":"tags"},"transform":[{"filter":{"field":"k","equal":"target"}}],"mark":{"type":"tick","orient":"horizontal","size":55,"thickness":14,"color":"#008000","opacity":1,"yOffset":-1},"encoding":{"x":{"datum":{"year":2009,"month":10,"date":17,"utc":true},"type":"temporal"},"y":{"field":"p","type":"quantitative"}}},
{"data":{"name":"tags"},"transform":[{"filter":{"field":"k","oneOf":["up","res","sup","high","ma","last","target"]}}],"mark":{"type":"text","color":"#ffffff","font":"DejaVu Sans","fontSize":11,"align":"center","baseline":"middle","yOffset":-1},"encoding":{"x":{"datum":{"year":2009,"month":10,"date":17,"utc":true},"type":"temporal"},"y":{"field":"p","type":"quantitative"},"text":{"field":"t"}}}
]
},
{
"width":522,"height":68,
"layer":[
{"data":{"values":[{"v":80},{"v":20}]},"mark":{"type":"rule","color":"#d4e4f1","strokeWidth":1},"encoding":{"x":{"datum":{"year":2008,"month":9,"date":9,"utc":true},"type":"temporal"},"x2":{"datum":{"year":2009,"month":9,"date":19,"utc":true}},"y":{"field":"v","type":"quantitative"}}},
{"data":{"values":[{}]},"mark":{"type":"rule","color":"#d4e4f1","strokeWidth":1},"encoding":{"x":{"datum":{"year":2009,"month":9,"date":1,"utc":true},"type":"temporal"}}},
{"data":{"name":"rsima"},"mark":{"type":"line","color":"#ff2a2a","strokeWidth":1.2,"interpolate":"monotone"},
 "encoding":{
  "x":{"field":"d","type":"temporal","scale":{"domain":[{"year":2008,"month":9,"date":9,"utc":true},{"year":2009,"month":9,"date":25,"utc":true}]},
   "axis":{"orient":"bottom","values":[{"year":2008,"month":10,"date":1,"utc":true},{"year":2008,"month":11,"date":1,"utc":true},{"year":2008,"month":12,"date":1,"utc":true},{"year":2009,"month":1,"date":1,"utc":true},{"year":2009,"month":2,"date":1,"utc":true},{"year":2009,"month":3,"date":1,"utc":true},{"year":2009,"month":4,"date":1,"utc":true},{"year":2009,"month":5,"date":1,"utc":true},{"year":2009,"month":6,"date":1,"utc":true},{"year":2009,"month":7,"date":1,"utc":true},{"year":2009,"month":8,"date":1,"utc":true},{"year":2009,"month":9,"date":1,"utc":true}],
    "labelExpr":"utcmonth(datum.value) == 0 ? '' + utcyear(datum.value) : ['janv.','févr.','mars','avr.','mai','juin','juil.','août','sept.','oct.','nov.','déc.'][utcmonth(datum.value)]",
    "ticks":false,"labelPadding":10,"title":null,"grid":false,"labelFlush":false,"labelOverlap":false,"domainColor":"#000"}},
  "y":{"field":"v","type":"quantitative","scale":{"domain":[13.64,90.9],"nice":false,"zero":false},
   "axis":{"orient":"right","values":[25,75],"format":".2f","tickSize":4,"labelPadding":2,"title":null,"grid":false,"labelOverlap":false,"labelFlush":false,"labelBound":false}}}},
{"data":{"name":"rsi"},"mark":{"type":"line","color":"#2a2a9c","strokeWidth":1.1},"encoding":{"x":{"field":"d","type":"temporal"},"y":{"field":"v","type":"quantitative"}}},
{"data":{"name":"rsitags"},"transform":[{"filter":{"field":"k","equal":"avg"}}],"mark":{"type":"rule","color":"#ff0000","strokeWidth":1,"yOffset":-1},"encoding":{"x":{"datum":{"year":2009,"month":9,"date":19,"utc":true},"type":"temporal"},"x2":{"datum":{"year":2009,"month":9,"date":25,"utc":true}},"y":{"field":"v","type":"quantitative"}}},
{"data":{"name":"rsitags"},"transform":[{"filter":{"field":"k","equal":"rsi"}}],"mark":{"type":"rule","color":"#000080","strokeWidth":1.5,"yOffset":-1},"encoding":{"x":{"datum":{"year":2009,"month":9,"date":19,"utc":true},"type":"temporal"},"x2":{"datum":{"year":2009,"month":9,"date":25,"utc":true}},"y":{"field":"v","type":"quantitative"}}},
{"data":{"name":"rsitags"},"transform":[{"filter":{"field":"k","equal":"rsi"}}],"mark":{"type":"tick","orient":"horizontal","size":55,"thickness":12,"color":"#000080","opacity":1,"yOffset":-1},"encoding":{"x":{"datum":{"year":2009,"month":10,"date":17,"utc":true},"type":"temporal"},"y":{"field":"v","type":"quantitative"}}},
{"data":{"name":"rsitags"},"transform":[{"filter":{"field":"k","equal":"avg"}}],"mark":{"type":"tick","orient":"horizontal","size":55,"thickness":12,"color":"#ff0000","opacity":1,"yOffset":-1},"encoding":{"x":{"datum":{"year":2009,"month":10,"date":17,"utc":true},"type":"temporal"},"y":{"field":"v","type":"quantitative"}}},
{"data":{"name":"rsitags"},"transform":[{"filter":{"field":"k","equal":"avg"}}],"mark":{"type":"text","color":"#ffffff","font":"DejaVu Sans","fontSize":11,"align":"center","baseline":"middle","yOffset":-1},"encoding":{"x":{"datum":{"year":2009,"month":10,"date":17,"utc":true},"type":"temporal"},"y":{"field":"v","type":"quantitative"},"text":{"field":"t"}}},
{"data":{"values":[{"t":"RSI"}]},"mark":{"type":"text","font":"DejaVu Sans","fontWeight":"bold","fontSize":11,"color":"#000000","align":"center","baseline":"middle"},"encoding":{"x":{"datum":{"year":2009,"month":5,"date":28,"utc":true},"type":"temporal"},"y":{"datum":40.9,"type":"quantitative"},"text":{"field":"t"}}},
{"data":{"values":[{"t":"Day"}]},"mark":{"type":"text","font":"DejaVu Sans","fontSize":9,"color":"#000000","align":"center","baseline":"middle"},"encoding":{"x":{"datum":{"year":2009,"month":10,"date":14,"utc":true},"type":"temporal"},"y":{"datum":3.4,"type":"quantitative"},"text":{"field":"t"}}},
{"data":{"values":[{"t":"Nickel 3M E"}]},"mark":{"type":"text","font":"DejaVu Sans","fontSize":9,"color":"#000000","align":"center","baseline":"middle"},"encoding":{"x":{"datum":{"year":2009,"month":10,"date":19,"utc":true},"type":"temporal"},"y":{"datum":-6.2,"type":"quantitative"},"text":{"field":"t"}}}
]
}
]
}
